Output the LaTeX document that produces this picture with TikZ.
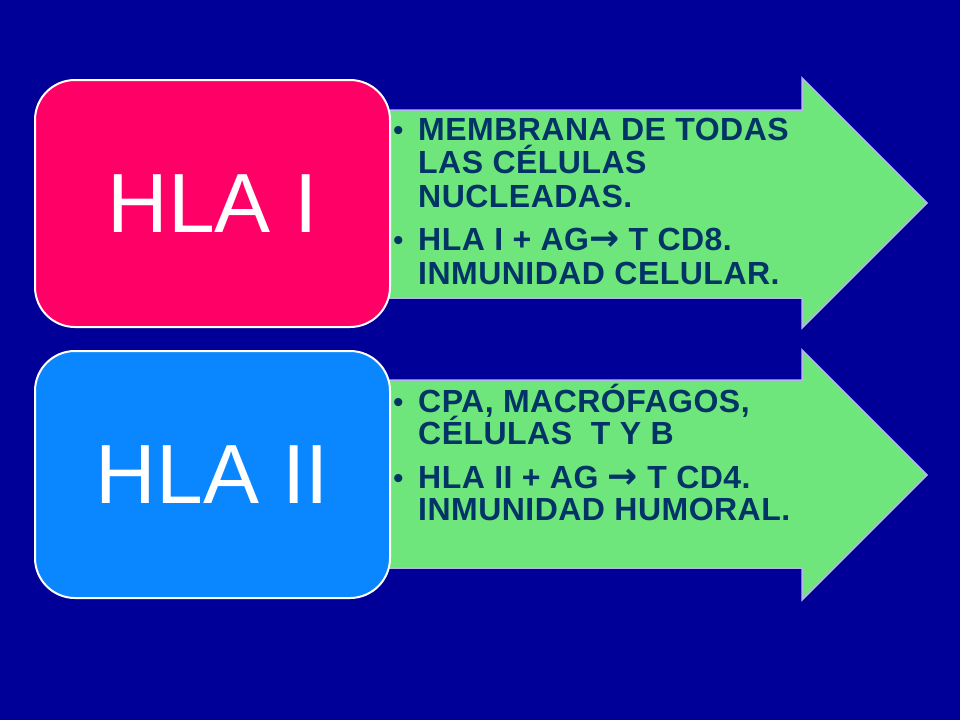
\documentclass[tikz,border=0pt]{standalone}
\usepackage{fontspec}
\setmainfont{Liberation Sans}
\newfontfamily\arrowfont{DejaVu Sans}
\definecolor{bgc}{HTML}{000099}
\definecolor{pinkc}{HTML}{FF0066}
\definecolor{bluec}{HTML}{0A87FF}
\definecolor{greenc}{HTML}{6FE67B}
\definecolor{txtc}{HTML}{003366}
\definecolor{edgec}{HTML}{B3B8E6}
\newcommand{\rarr}{{\arrowfont\fontsize{36}{36}\selectfont →}}
\tikzset{
  arrowshape/.style={fill=greenc, draw=edgec, line width=1.5pt, line join=miter},
  hlabox/.style={draw=white, line width=2pt, rounded corners=40pt, minimum width=355pt, minimum height=247pt, text=white, font=\fontsize{84}{84}\selectfont, inner sep=0pt},
  itm/.style={anchor=base west, inner sep=0pt, text=txtc, font=\bfseries\fontsize{32}{32}\selectfont\addfontfeature{LetterSpace=1.5}},
  bul/.style={anchor=base west, inner sep=0pt, text=txtc, font=\fontsize{30}{30}\selectfont}
}
\begin{document}
\begin{tikzpicture}[x=1pt,y=-1pt]
\fill[bgc] (0,0) rectangle (960,720);
\useasboundingbox (0,0) rectangle (960,720);
% arrows
\draw[arrowshape] (385,110) -- (802,110) -- (802,78) -- (927,203) -- (802,328) -- (802,298) -- (385,298) -- cycle;
\draw[arrowshape] (385,380) -- (802,380) -- (802,350) -- (927,475) -- (802,600) -- (802,568) -- (385,568) -- cycle;
% boxes
\node[hlabox, fill=pinkc] (hla1) at (212.5,203.5) {HLA I};
\node[hlabox, fill=bluec] (hla2) at (212.5,474.5) {HLA II};
% text top
\node[bul] (b1) at (393,140) {•};
\node[itm] (t1a) at (418,140) {MEMBRANA DE TODAS};
\node[itm] (t1b) at (418,173.5) {LAS CÉLULAS};
\node[itm] (t1c) at (418,207) {NUCLEADAS.};
\node[bul] (b2) at (393,250) {•};
\node[itm] (t2a) at (418,250) {HLA I + AG\rarr\ T CD8.};
\node[itm] (t2b) at (418,284) {INMUNIDAD CELULAR.};
% text bottom
\node[bul] (b3) at (393,412) {•};
\node[itm] (t3a) at (418,412) {CPA, MACRÓFAGOS,};
\node[itm] (t3b) at (418,444.5) {CÉLULAS\ \ T Y B};
\node[bul] (b4) at (393,488) {•};
\node[itm] (t4a) at (418,488) {HLA II + AG \rarr\ T CD4.};
\node[itm] (t4b) at (418,520) {INMUNIDAD HUMORAL.};
\end{tikzpicture}
\end{document}
